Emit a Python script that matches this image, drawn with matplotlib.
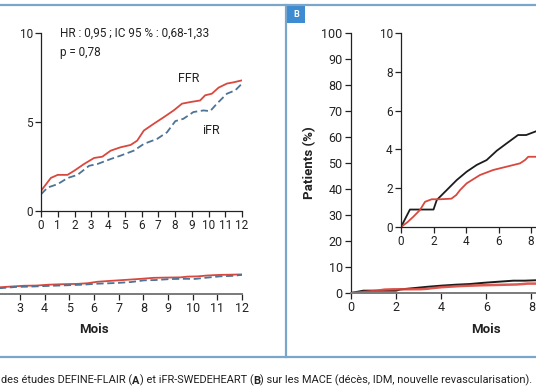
import matplotlib
matplotlib.use("Agg")
import matplotlib.pyplot as plt
from matplotlib.patches import Rectangle

plt.rcParams['font.family'] = ['Roboto', 'DejaVu Sans']

# Panel A (DEFINE-FLAIR), % of patients, months
ffr_months = [0, 0.59, 1.0, 1.58, 1.98, 2.57, 3.17, 3.66, 4.16, 4.75, 5.35, 5.74,
              6.14, 6.73, 7.33, 7.92, 8.42, 8.91, 9.5, 9.8, 10.2, 10.6, 11.1, 11.5, 12]
ffr_values = [1.13, 1.86, 2.03, 2.03, 2.26, 2.64, 2.98, 3.05, 3.39, 3.58, 3.71, 3.95,
              4.52, 4.9, 5.27, 5.65, 6.03, 6.12, 6.21, 6.5, 6.59, 6.93, 7.16, 7.23, 7.34]
ifr_months = [0, 0.4, 1.0, 1.58, 2.18, 2.87, 3.37, 4.16, 4.75, 5.54, 6.14, 6.93,
              7.52, 8.02, 8.5, 9.1, 9.7, 10.1, 10.5, 11.1, 11.6, 12]
ifr_values = [0.94, 1.32, 1.51, 1.85, 2.03, 2.54, 2.64, 2.92, 3.11, 3.39, 3.77, 4.05,
              4.42, 5.05, 5.18, 5.56, 5.65, 5.61, 6.03, 6.59, 6.78, 7.16]

# Panel B (iFR-SWEDEHEART)
b_black_months = [0, 0.55, 2.0, 2.2, 2.81, 3.43, 4.04, 4.66, 5.27, 5.89, 6.5, 7.2, 7.7, 8.3]
b_black_values = [0, 0.9, 0.9, 1.39, 1.9, 2.42, 2.85, 3.2, 3.45, 3.93, 4.31, 4.74, 4.74, 4.93]
b_red_months = [0, 0.4, 0.76, 1.17, 1.48, 1.89, 2.4, 3.1, 3.4, 3.63, 4.04, 4.86, 5.68,
                6.5, 7.32, 7.63, 7.83, 8.3]
b_red_values = [0, 0.25, 0.53, 0.88, 1.3, 1.43, 1.43, 1.46, 1.65, 1.9, 2.25, 2.68, 2.94,
                3.11, 3.28, 3.45, 3.62, 3.62]

a_inset_ticks = list(range(0, 13))
a_main_ticks = list(range(3, 13))   # 0-2 lie outside the crop
b_xticks = [0, 2, 4, 6, 8]          # later months lie outside the crop
b_main_yticks = list(range(0, 101, 10))
b_inset_yticks = list(range(0, 11, 2))

caption_parts = [("des études DEFINE-FLAIR (", "normal"), ("A", "bold"),
                 (") et iFR-SWEDEHEART (", "normal"), ("B", "bold"),
                 (") sur les MACE (décès, IDM, nouvelle revascularisation).", "normal")]

W, H = 536, 386
RED = '#d9483e'
BLUE = '#4d7396'
BLACK = '#1c1c1c'
FRAME = '#7aa6cc'
TXT = '#222222'

fig = plt.figure(figsize=(W / 100, H / 100), dpi=100)

# background layer for frame lines and caption
bg = fig.add_axes([0, 0, 1, 1])
bg.set_xlim(0, W)
bg.set_ylim(H, 0)
bg.axis('off')
bg.plot([0, W], [5, 5], color=FRAME, lw=1.6)
bg.plot([0, W], [357, 357], color=FRAME, lw=1.6)
bg.plot([286, 286], [5, 357], color=FRAME, lw=1.6)
bg.add_patch(Rectangle((287, 5.5), 18, 17, color='#3d8bd0', lw=0))
bg.text(296, 14.5, "B", color='white', fontsize=6.5, fontweight='bold',
        ha='center', va='center')

prev = None
for txt, wt in caption_parts:
    if prev is None:
        prev = bg.text(1, 386, txt, fontsize=7.9, fontweight=wt, color=TXT,
                       ha='left', va='bottom')
    else:
        prev = bg.annotate(txt, xy=(1, 0), xycoords=prev, fontsize=7.9,
                           fontweight=wt, color=TXT, ha='left', va='bottom')


def px_axes(x0, y0, x1, y1):
    ax = fig.add_axes([x0 / W, 1 - y0 / H, (x1 - x0) / W, (y0 - y1) / H])
    ax.set_facecolor('none')
    for s in ['top', 'right']:
        ax.spines[s].set_visible(False)
    ax.tick_params(length=4, width=0.9, color=TXT, labelcolor=TXT, labelsize=9, pad=2)
    return ax


# ---- panel A, main plot ----
axA = px_axes(-54, 293.5, 242, 33.5)
axA.plot(ffr_months, ffr_values, color=RED, lw=1.3)
axA.plot(ifr_months, ifr_values, color=BLUE, lw=1.3, ls=(0, (4, 2)))
axA.set_xlim(0, 12)
axA.set_ylim(0, 100)
axA.set_xticks(a_main_ticks)
axA.set_yticks([])
axA.spines['left'].set_visible(False)
axA.spines['bottom'].set_color('#7a7a7a')
axA.spines['bottom'].set_linewidth(1.4)
axA.set_xlabel("Mois", fontsize=9.5, fontweight='semibold', color=TXT, labelpad=6)

# ---- panel A, inset ----
axAi = px_axes(41, 211, 242, 33)
axAi.plot(ffr_months, ffr_values, color=RED, lw=1.3)
axAi.plot(ifr_months, ifr_values, color=BLUE, lw=1.3, ls=(0, (4, 2)))
axAi.set_xlim(0, 12)
axAi.set_ylim(0, 10)
axAi.set_xticks(a_inset_ticks)
axAi.set_yticks([0, 5, 10])
axAi.tick_params(labelsize=8.5)
for s in ['left', 'bottom']:
    axAi.spines[s].set_color(TXT)
    axAi.spines[s].set_linewidth(0.9)
axAi.text(1.13, 10, "HR : 0,95 ; IC 95 % : 0,68-1,33", fontsize=8.5, color=TXT,
          va='center', ha='left')
axAi.text(1.13, 8.92, "p = 0,78", fontsize=8.5, color=TXT, va='center', ha='left')
axAi.text(8.8, 7.43, "FFR", fontsize=9, color=TXT, va='center', ha='center')
axAi.text(10.15, 4.55, "iFR", fontsize=9, color=TXT, va='center', ha='center')

# ---- panel B, main plot ----
axB = px_axes(351, 293, 351 + 12 * 22.55, 33)
axB.plot(b_black_months, b_black_values, color=BLACK, lw=1.4)
axB.plot(b_red_months, b_red_values, color=RED, lw=1.8, alpha=0.9)
axB.set_xlim(0, 12)
axB.set_ylim(0, 100)
axB.set_xticks(b_xticks)
axB.set_yticks(b_main_yticks)
axB.spines['left'].set_color(TXT)
axB.spines['left'].set_linewidth(0.9)
axB.spines['bottom'].set_color('#7a7a7a')
axB.spines['bottom'].set_linewidth(1.4)
axB.set_xlabel("Mois", fontsize=9.5, fontweight='semibold', color=TXT, labelpad=6)
axB.set_ylabel("Patients (%)", fontsize=9.5, fontweight='semibold', color=TXT, labelpad=4)

# ---- panel B, inset ----
axBi = px_axes(401, 227, 401 + 12 * 16.25, 33)
axBi.plot(b_black_months, b_black_values, color=BLACK, lw=1.3)
axBi.plot(b_red_months, b_red_values, color=RED, lw=1.3)
axBi.set_xlim(0, 12)
axBi.set_ylim(0, 10)
axBi.set_xticks(b_xticks)
axBi.set_yticks(b_inset_yticks)
axBi.tick_params(labelsize=8.5)
for s in ['left', 'bottom']:
    axBi.spines[s].set_color(TXT)
    axBi.spines[s].set_linewidth(0.9)

fig.savefig("out.png", dpi=100)
